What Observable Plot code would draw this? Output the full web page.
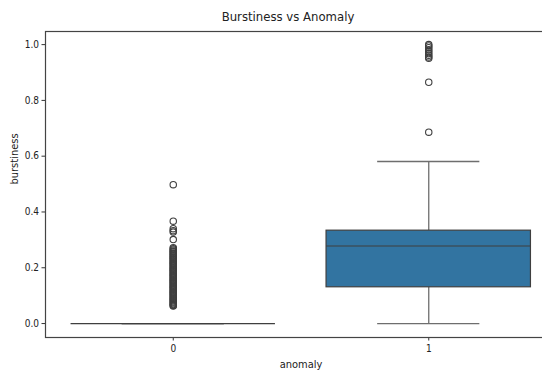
<!DOCTYPE html>
<html>
<head>
<meta charset="utf-8">
<script src="https://cdn.jsdelivr.net/npm/d3@7"></script>
<script src="https://cdn.jsdelivr.net/npm/@observablehq/plot@0.6"></script>
<style>
  html, body { margin: 0; padding: 0; background: #fff; overflow: hidden; }
  #title {
    width: 542px; height: 26px; box-sizing: border-box; padding-left: 34px;
    text-align: center; font-family: "DejaVu Sans Condensed", "DejaVu Sans", sans-serif;
    font-stretch: condensed; font-size: 13px; line-height: 34px; color: #222; white-space: nowrap;
  }
  svg { display: block; }
</style>
</head>
<body>
<div id="title"></div>
<div id="chart"></div>
<script>
// ---- data ----
const titleText = "Burstiness vs Anomaly";
const xLabel = "anomaly";
const yLabel = "burstiness";
const categories = [0, 1];
const categoryLabels = ["0", "1"];
const q1 = [0, 0.130];
const median = [0, 0.278];
const q3 = [0, 0.333];
const whiskerLow = [0, 0];
const whiskerHigh = [0, 0.581];
const outliers0 = [0.498, 0.367, 0.340, 0.333, 0.328, 0.301, 0.272, 0.268, 0.264, 0.260, 0.257, 0.253,
  0.250, 0.246, 0.243, 0.239, 0.236, 0.232, 0.229, 0.225, 0.221, 0.218, 0.214, 0.211, 0.207, 0.203,
  0.200, 0.196, 0.193, 0.189, 0.186, 0.182, 0.178, 0.175, 0.171, 0.168, 0.164, 0.160, 0.157, 0.153,
  0.150, 0.146, 0.143, 0.139, 0.135, 0.132, 0.128, 0.125, 0.121, 0.117, 0.114, 0.110, 0.107, 0.103,
  0.100, 0.096, 0.092, 0.089, 0.085, 0.082, 0.078, 0.075, 0.071, 0.068, 0.065, 0.063];
const outliers1 = [1.000, 0.995, 0.989, 0.982, 0.975, 0.968, 0.962, 0.956, 0.951, 0.865, 0.686];
const yTicks = [0, 0.2, 0.4, 0.6, 0.8, 1.0];

// ---- tables built from the arrays ----
const stats = categories.map((c, i) => ({
  cat: c, q1: q1[i], median: median[i], q3: q3[i], lo: whiskerLow[i], hi: whiskerHigh[i]
}));
const outlierRows = [
  ...outliers0.map(v => ({cat: categories[0], v})),
  ...outliers1.map(v => ({cat: categories[1], v}))
];

document.getElementById("title").textContent = titleText;

const font = "'DejaVu Sans Condensed', 'DejaVu Sans', sans-serif";
const boxHalf = 0.4, capHalf = 0.2;
const lineCol = "#3f3f3f";
const whiskCol = "#6e6e6e";

const chart = Plot.plot({
  width: 542,
  height: 344,
  marginTop: 5,
  marginLeft: 45,
  marginBottom: 33,
  marginRight: -14,
  style: {fontFamily: font, fontSize: "10px", color: "#222", background: "#fff", fontStretch: "condensed"},
  x: {type: "linear", domain: [-0.5, 1.5], label: null},
  y: {domain: [-0.05, 1.047], label: null},
  marks: [
    // whiskers
    Plot.ruleX(stats, {x: "cat", y1: "lo", y2: "q1", stroke: whiskCol, strokeWidth: 1.3}),
    Plot.ruleX(stats, {x: "cat", y1: "q3", y2: "hi", stroke: whiskCol, strokeWidth: 1.3}),
    Plot.ruleY(stats, {y: "lo", x1: d => d.cat - capHalf, x2: d => d.cat + capHalf, stroke: whiskCol, strokeWidth: 1.3}),
    Plot.ruleY(stats, {y: "hi", x1: d => d.cat - capHalf, x2: d => d.cat + capHalf, stroke: whiskCol, strokeWidth: 1.3}),
    // boxes
    Plot.rect(stats, {x1: d => d.cat - boxHalf, x2: d => d.cat + boxHalf, y1: "q1", y2: "q3",
      fill: "#3274a1", stroke: lineCol, strokeWidth: 1.2}),
    Plot.ruleY(stats, {y: "median", x1: d => d.cat - boxHalf, x2: d => d.cat + boxHalf, stroke: lineCol, strokeWidth: 1.2}),
    // outliers
    Plot.dot(outlierRows, {x: "cat", y: "v", r: 3.2, fill: "none", stroke: lineCol, strokeWidth: 1.1}),
    // axes
    Plot.axisX({ticks: categories, tickFormat: d => categoryLabels[categories.indexOf(d)], tickSize: 3.5, tickPadding: 4, stroke: "#333", label: null}),
    Plot.axisY({ticks: yTicks, tickFormat: d => d.toFixed(1), tickSize: 3.5, tickPadding: 3, stroke: "#333", label: null}),
    // axis labels
    Plot.text([xLabel], {frameAnchor: "bottom", text: d => d, dy: 30, fontSize: 11, fill: "#222"}),
    Plot.text([yLabel], {frameAnchor: "left", text: d => d, rotate: -90, dx: -31, fontSize: 11, fill: "#222"}),
    // frame (spines)
    Plot.frame({stroke: "#444", strokeWidth: 1.2})
  ]
});
document.getElementById("chart").appendChild(chart);
</script>
</body>
</html>
